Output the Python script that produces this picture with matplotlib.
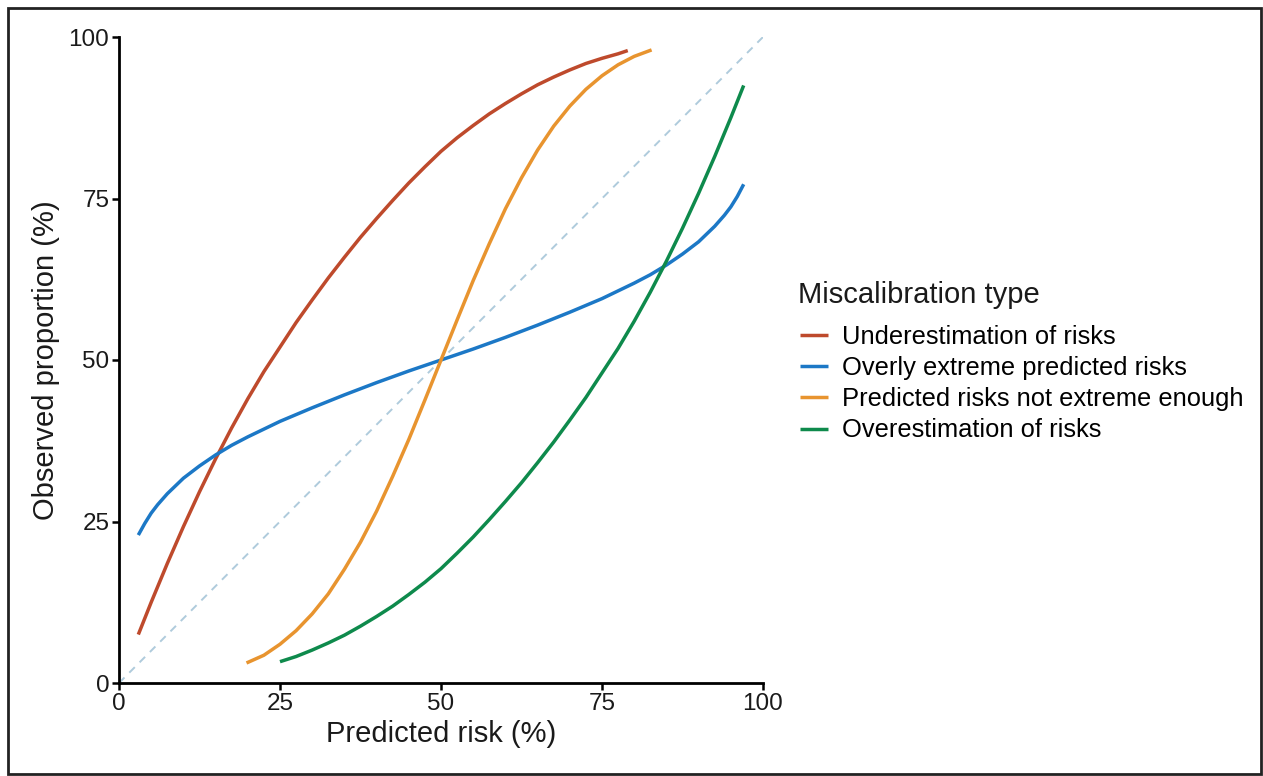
import matplotlib
matplotlib.use("Agg")
import matplotlib.pyplot as plt
from matplotlib.patches import Rectangle

plt.rcParams['font.family'] = ['Liberation Sans', 'DejaVu Sans']

# values (predicted %, observed %)
under_x = [3, 5, 7.5, 10, 12.5, 15, 17.5, 20, 22.5, 25, 27.5, 30, 32.5, 35, 37.5, 40, 42.5,
           45, 47.5, 50, 52.5, 55, 57.5, 60, 62.5, 65, 67.5, 70, 72.5, 75, 77.5, 79]
under_y = [7.5, 12.5, 18.5, 24.2, 29.6, 34.7, 39.5, 44, 48.2, 52, 55.8, 59.3, 62.7, 65.9, 69, 71.9, 74.7,
           77.4, 79.9, 82.3, 84.4, 86.3, 88.1, 89.7, 91.2, 92.6, 93.8, 94.9, 95.9, 96.7, 97.4, 97.9]

extreme_x = [3, 4, 5, 6, 7.5, 10, 12.5, 15, 17.5, 20, 22.5, 25, 30, 35, 40, 45, 50,
             55, 60, 65, 70, 75, 77.5, 80, 82.5, 85, 87.5, 90, 92.5, 94, 95, 96, 97]
extreme_y = [22.9, 24.7, 26.3, 27.6, 29.3, 31.7, 33.6, 35.3, 36.8, 38.1, 39.3, 40.5, 42.6, 44.6, 46.5, 48.3, 50,
             51.7, 53.5, 55.4, 57.4, 59.5, 60.7, 61.9, 63.2, 64.7, 66.4, 68.3, 70.7, 72.4, 73.7, 75.3, 77.2]

notext_x = [19.8, 22.5, 25, 27.5, 30, 32.5, 35, 37.5, 40, 42.5, 45, 47.5, 50,
            52.5, 55, 57.5, 60, 62.5, 65, 67.5, 70, 72.5, 75, 77.5, 80, 82.7]
notext_y = [3.1, 4.3, 6.0, 8.1, 10.7, 13.8, 17.6, 21.8, 26.6, 32, 37.7, 43.8, 50,
            56.2, 62.3, 68, 73.4, 78.2, 82.5, 86.2, 89.3, 91.9, 94, 95.7, 97, 98]

over_x = [25, 27.5, 30, 32.5, 35, 37.5, 40, 42.5, 45, 47.5, 50, 52.5, 55, 57.5, 60, 62.5,
          65, 67.5, 70, 72.5, 75, 77.5, 80, 82.5, 85, 87.5, 90, 92.5, 95, 97]
over_y = [3.3, 4.1, 5.1, 6.2, 7.4, 8.8, 10.3, 11.9, 13.7, 15.6, 17.7, 20.1, 22.6, 25.3, 28.1, 31,
          34.1, 37.3, 40.7, 44.2, 48, 51.8, 56, 60.5, 65.3, 70.4, 75.8, 81.5, 87.5, 92.5]

series = [
    ("Underestimation of risks", under_x, under_y, "#BE4A2C"),
    ("Overly extreme predicted risks", extreme_x, extreme_y, "#1C78C6"),
    ("Predicted risks not extreme enough", notext_x, notext_y, "#E8942F"),
    ("Overestimation of risks", over_x, over_y, "#0E8A4C"),
]

fig = plt.figure(figsize=(12.63, 7.76), dpi=100)
ax = fig.add_axes([119 / 1263, 1 - 683 / 776, (763 - 119) / 1263, (683 - 37) / 776])

ax.plot([0, 100], [0, 100], linestyle=(0, (4, 3.5)), color="#AFCBDC", linewidth=1.4)
for label, xs, ys, col in series:
    ax.plot(xs, ys, color=col, linewidth=2.5, label=label, solid_capstyle='butt',
            solid_joinstyle='round')

ax.set_xlim(0, 100)
ax.set_ylim(0, 100)
ax.set_xticks([0, 25, 50, 75, 100])
ax.set_yticks([0, 25, 50, 75, 100])
ax.tick_params(labelsize=17.5, length=5, width=1.8, color='black', labelcolor='#1a1a1a', pad=2)
for s in ['top', 'right']:
    ax.spines[s].set_visible(False)
for s in ['left', 'bottom']:
    ax.spines[s].set_linewidth(2)
ax.set_xlabel("Predicted risk (%)", fontsize=21, color='#1a1a1a', labelpad=4)
ax.set_ylabel("Observed proportion (%)", fontsize=21, color='#1a1a1a', labelpad=6)

# legend title drawn separately so the gap to the entries matches
fig.text(798 / 1263, 1 - 295 / 776, "Miscalibration type", fontsize=21,
         color='#1a1a1a', ha='left', va='center')
leg = ax.legend(loc='upper left', bbox_to_anchor=(800 / 1263, 1 - 325 / 776),
                bbox_transform=fig.transFigure, frameon=False, fontsize=18.4,
                handlelength=1.1, handletextpad=0.55, labelspacing=0.28,
                borderpad=0, borderaxespad=0)

fig.patches.append(Rectangle((8 / 1263, 2 / 776), 1253 / 1263, 766 / 776,
                             transform=fig.transFigure, fill=False,
                             edgecolor='#222222', linewidth=2))

fig.savefig("out.png", dpi=100)
